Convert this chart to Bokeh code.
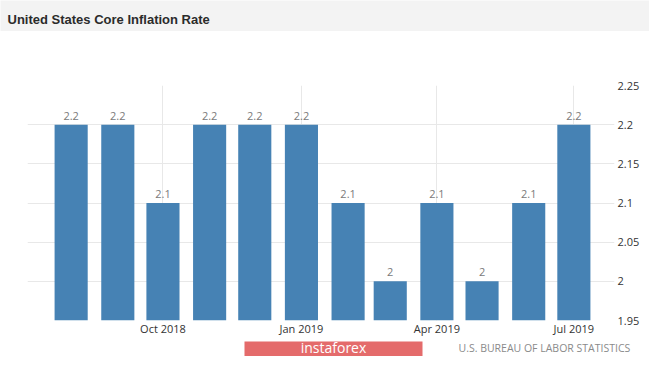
from datetime import datetime
from bokeh.plotting import figure
from bokeh.models import ColumnDataSource, Range1d, FixedTicker
from bokeh.layouts import column
from bokeh.core.properties import value
from bokeh.embed import file_html
from bokeh.resources import INLINE

# ---------------- data ----------------
TITLE = "United States Core Inflation Rate"
SOURCE = "U.S. BUREAU OF LABOR STATISTICS"
LOGO = "instaforex"

months = [
    datetime(2018, 8, 1), datetime(2018, 9, 1), datetime(2018, 10, 1),
    datetime(2018, 11, 1), datetime(2018, 12, 1), datetime(2019, 1, 1),
    datetime(2019, 2, 1), datetime(2019, 3, 1), datetime(2019, 4, 1),
    datetime(2019, 5, 1), datetime(2019, 6, 1), datetime(2019, 7, 1),
]
rates = [2.2, 2.2, 2.1, 2.2, 2.2, 2.2, 2.1, 2.0, 2.1, 2.0, 2.1, 2.2]
rate_labels = ["2.2", "2.2", "2.1", "2.2", "2.2", "2.2", "2.1", "2", "2.1", "2", "2.1", "2.2"]

x_tick_dates = [datetime(2018, 10, 1), datetime(2019, 1, 1), datetime(2019, 4, 1), datetime(2019, 7, 1)]
x_tick_labels = ["Oct 2018", "Jan 2019", "Apr 2019", "Jul 2019"]

y_ticks = [1.95, 2.0, 2.05, 2.1, 2.15, 2.2, 2.25]
y_tick_labels = ["1.95", "2", "2.05", "2.1", "2.15", "2.2", "2.25"]

Y_MIN, Y_MAX = 1.95, 2.25
X_START, X_END = datetime(2018, 7, 3), datetime(2019, 7, 28)
DAY_MS = 24 * 3600 * 1000
BAR_WIDTH = 22 * DAY_MS

EPOCH = datetime(1970, 1, 1)
def to_ms(d):
    return (d - EPOCH).total_seconds() * 1000.0

W = 649
BAR_COLOR = "#4682b4"
FONT = "Open Sans"

def strip(h, bg):
    f = figure(width=W, height=h, x_range=Range1d(0, W), y_range=Range1d(0, h),
               toolbar_location=None, output_backend="svg",
               x_axis_location=None, y_axis_location=None,
               min_border_left=0, min_border_right=0, min_border_top=0,
               min_border_bottom=0, frame_align=False,
               background_fill_color=bg, border_fill_color=bg,
               outline_line_color=None)
    f.grid.visible = False
    return f

# ---------------- title bar ----------------
TH = 31
tf = strip(TH, "#f3f3f3")
tf.text(x=[7], y=[TH - 19], text=[TITLE], text_font=value("Liberation Sans"),
        text_font_style="bold", text_font_size="13px", text_color="#2b2b2b",
        text_baseline="alphabetic", text_align="left")

# ---------------- main chart ----------------
MH = 307
src = ColumnDataSource(dict(date=months, rate=rates, label=rate_labels))

p = figure(width=W, height=MH, x_axis_type="datetime",
           x_range=Range1d(X_START, X_END), y_range=Range1d(Y_MIN, Y_MAX),
           y_axis_location="right", toolbar_location=None, output_backend="svg",
           min_border_left=27, min_border_right=35, min_border_top=54,
           min_border_bottom=17, frame_align=False, outline_line_color=None,
           background_fill_color="white", border_fill_color="white")

p.vbar(x="date", top="rate", bottom=Y_MIN, width=BAR_WIDTH, source=src,
       fill_color=BAR_COLOR, line_color=None)

p.text(x="date", y="rate", text="label", source=src, text_font=value(FONT),
       text_font_size="11px", text_color="#7a7a7a", text_align="center",
       text_baseline="bottom", y_offset=-5)

xt = FixedTicker(ticks=[to_ms(d) for d in x_tick_dates])
yt = FixedTicker(ticks=y_ticks)

xa = p.xaxis[0]
xa.ticker = xt
xa.major_label_overrides = {to_ms(d): lab for d, lab in zip(x_tick_dates, x_tick_labels)}
ya = p.yaxis[0]
ya.ticker = yt
ya.major_label_overrides = {t: lab for t, lab in zip(y_ticks, y_tick_labels)}

for ax in (xa, ya):
    ax.axis_line_color = None
    ax.major_tick_line_color = None
    ax.minor_tick_line_color = None
    ax.major_tick_out = 0
    ax.major_tick_in = 0
    ax.major_label_text_font = FONT
    ax.major_label_text_font_size = "11px"
    ax.major_label_text_color = "#333333"
xa.major_label_standoff = 0
ya.major_label_standoff = 3

p.xgrid.ticker = xt
p.ygrid.ticker = yt
p.xgrid.grid_line_color = "#e8e8e8"
p.ygrid.grid_line_color = "#e8e8e8"

# ---------------- footer ----------------
FH = 18
ff = strip(FH, "white")
ff.quad(left=[244], right=[422], top=[FH - 3], bottom=[-6], fill_color="#e46b6b",
        line_color=None)
ff.text(x=[333], y=[9], text=[LOGO], text_font=value(FONT), text_font_size="14px",
        text_color="white", text_align="center", text_baseline="middle")
ff.text(x=[458], y=[9], text=[SOURCE], text_font=value(FONT), text_font_size="10.5px",
        text_color="#8a8a8a", text_align="left", text_baseline="middle")

layout = column(tf, p, ff, spacing=0)
open("out.html", "w").write(file_html(layout, INLINE))
